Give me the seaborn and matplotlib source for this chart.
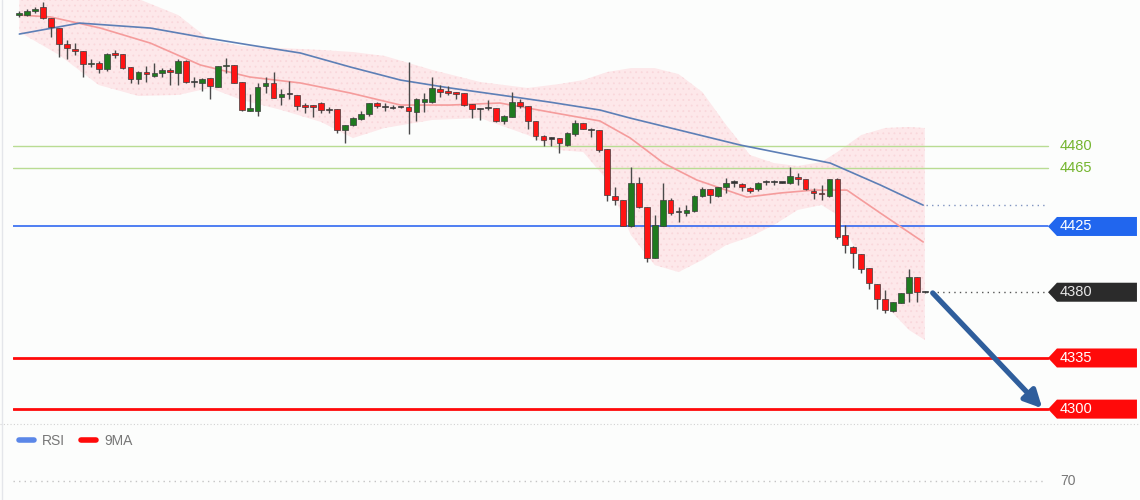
import numpy as np
import matplotlib
matplotlib.use("Agg")
import matplotlib.pyplot as plt
import matplotlib.transforms as mtransforms
from matplotlib.patches import Polygon
from matplotlib.lines import Line2D
import seaborn as sns

sns.set_theme(style="white")
plt.rcParams['font.family'] = ['Liberation Sans', 'DejaVu Sans']
plt.rcParams['hatch.linewidth'] = 0.6

# candle data, one row per bar: open, high, low, close
opens = [4569.7, 4569.5, 4572.5, 4575.4, 4567.5, 4560.6, 4549.7, 4546.7, 4545.3, 4536.0,
         4537.1, 4532.6, 4543.5, 4542.8, 4534.4, 4525.7, 4530.9, 4528.0, 4529.8, 4532.1,
         4530.2, 4538.3, 4524.1, 4523.0, 4526.4, 4520.5, 4534.8, 4535.5, 4524.1, 4504.0,
         4504.2, 4521.1, 4523.5, 4513.8, 4515.8, 4515.0, 4508.1, 4507.5, 4509.3, 4504.7,
         4505.2, 4491.0, 4494.5, 4498.8, 4502.0, 4509.3, 4507.0, 4506.3, 4506.6, 4506.6,
         4503.5, 4510.4, 4510.4, 4519.1, 4517.9, 4516.8, 4516.1, 4508.8, 4505.4, 4505.8,
         4505.9, 4497.4, 4500.1, 4510.4, 4507.7, 4497.4, 4486.9, 4485.3, 4485.7, 4480.8,
         4488.3, 4495.6, 4491.0, 4491.0, 4477.8, 4445.8, 4443.1, 4425.3, 4455.0, 4438.5,
         4403.2, 4425.3, 4443.1, 4435.1, 4434.0, 4435.8, 4445.8, 4450.7, 4445.8, 4452.2,
         4455.0, 4454.1, 4451.1, 4450.4, 4455.6, 4455.6, 4455.0, 4454.5, 4459.1, 4457.3,
         4449.5, 4447.7, 4445.8, 4457.3, 4419.2, 4410.7, 4406.2, 4396.4, 4385.6, 4375.2,
         4367.3, 4372.8, 4379.6, 4390.2, 4380.0]
highs = [4572.5, 4573.6, 4575.4, 4578.6, 4567.5, 4560.6, 4552.6, 4550.4, 4545.3, 4539.4,
         4538.2, 4543.5, 4545.8, 4542.8, 4534.4, 4531.4, 4534.8, 4536.7, 4533.3, 4533.3,
         4539.4, 4538.9, 4527.5, 4526.4, 4526.4, 4534.8, 4540.4, 4535.5, 4524.1, 4515.4,
         4523.0, 4527.3, 4530.9, 4519.1, 4524.4, 4515.0, 4509.3, 4508.1, 4510.4, 4506.6,
         4505.2, 4494.5, 4500.1, 4504.2, 4509.7, 4510.0, 4509.7, 4508.1, 4507.3, 4537.8,
         4512.7, 4516.1, 4527.5, 4521.8, 4521.1, 4517.2, 4516.1, 4508.8, 4505.9, 4511.6,
         4505.9, 4501.3, 4517.2, 4512.0, 4507.7, 4497.4, 4487.6, 4486.4, 4485.7, 4489.7,
         4497.9, 4495.8, 4492.2, 4491.0, 4477.8, 4452.2, 4443.1, 4465.9, 4459.1, 4438.5,
         4432.9, 4455.0, 4444.3, 4438.5, 4439.7, 4446.5, 4451.8, 4450.7, 4452.2, 4458.0,
         4456.8, 4454.6, 4452.2, 4455.6, 4456.8, 4456.8, 4455.4, 4465.5, 4461.4, 4457.3,
         4451.1, 4453.4, 4457.3, 4457.9, 4426.0, 4411.6, 4406.2, 4396.4, 4385.6, 4381.5,
         4373.5, 4379.2, 4395.7, 4390.2, 4380.5]
lows = [4568.6, 4569.0, 4570.9, 4567.0, 4554.9, 4541.2, 4539.4, 4542.4, 4527.5, 4534.4,
        4529.8, 4531.6, 4540.1, 4532.6, 4523.0, 4522.5, 4524.1, 4527.1, 4527.5, 4521.8,
        4521.8, 4523.0, 4520.2, 4517.9, 4512.0, 4520.2, 4530.2, 4523.2, 4504.0, 4503.7,
        4500.6, 4516.4, 4512.7, 4508.1, 4512.2, 4504.7, 4502.5, 4500.1, 4502.9, 4502.9,
        4489.2, 4481.9, 4493.8, 4497.9, 4500.6, 4505.9, 4504.2, 4505.4, 4505.9, 4488.3,
        4497.4, 4503.5, 4509.7, 4513.8, 4515.0, 4512.0, 4507.5, 4499.0, 4497.9, 4504.7,
        4496.7, 4495.1, 4499.7, 4505.9, 4491.5, 4484.2, 4480.1, 4480.1, 4475.4, 4480.1,
        4486.9, 4491.4, 4486.4, 4476.2, 4442.6, 4439.7, 4425.0, 4424.8, 4437.4, 4400.9,
        4403.2, 4425.3, 4432.9, 4428.3, 4432.2, 4435.1, 4445.0, 4440.9, 4445.4, 4447.7,
        4451.8, 4449.5, 4447.7, 4449.5, 4453.4, 4453.4, 4454.5, 4454.1, 4453.4, 4450.0,
        4443.6, 4443.1, 4445.4, 4416.2, 4406.6, 4396.4, 4393.0, 4382.0, 4368.3, 4365.6,
        4366.7, 4372.4, 4373.5, 4373.5, 4379.5]
closes = [4571.3, 4572.5, 4573.6, 4567.5, 4561.3, 4549.9, 4546.9, 4545.3, 4536.0, 4537.1,
          4532.8, 4543.0, 4542.2, 4533.7, 4525.7, 4530.9, 4529.4, 4529.8, 4532.1, 4530.5,
          4538.3, 4524.1, 4524.0, 4525.7, 4520.9, 4534.6, 4535.3, 4523.5, 4504.5, 4505.9,
          4520.2, 4523.5, 4512.9, 4515.5, 4515.9, 4507.5, 4506.6, 4507.0, 4504.7, 4504.8,
          4491.0, 4494.5, 4499.0, 4502.0, 4509.3, 4507.5, 4506.9, 4506.2, 4506.5, 4504.2,
          4512.0, 4512.0, 4519.6, 4517.2, 4516.6, 4515.5, 4508.1, 4505.4, 4505.3, 4505.9,
          4497.4, 4500.6, 4510.4, 4507.7, 4497.2, 4486.9, 4484.2, 4485.2, 4481.9, 4489.0,
          4496.0, 4491.5, 4490.9, 4477.3, 4446.5, 4443.1, 4425.3, 4455.0, 4438.5, 4403.2,
          4426.0, 4443.1, 4434.0, 4435.0, 4436.3, 4445.8, 4450.7, 4446.5, 4451.8, 4455.0,
          4455.1, 4451.8, 4449.5, 4454.6, 4455.7, 4455.7, 4455.1, 4459.5, 4457.3, 4450.4,
          4447.7, 4447.2, 4457.3, 4417.6, 4412.3, 4406.6, 4395.7, 4386.1, 4375.2, 4367.8,
          4373.5, 4379.2, 4390.2, 4379.9, 4380.0]

# bollinger band edges read at these bars
band_idx = [0, 5, 10, 15, 20, 24, 28, 33, 38, 42, 46, 52, 58, 64, 68, 71, 74, 77, 80, 83,
            86, 89, 92, 95, 98, 101, 103, 106, 109, 112, 114]
band_upper = [4586.8, 4586.2, 4584.1, 4580.7, 4569.7, 4552.6, 4548.5, 4547.1, 4545.8, 4544.4,
              4541.7, 4532.1, 4523.9, 4519.8, 4522.5, 4525.2, 4530.7, 4533.4, 4533.4, 4529.3,
              4517.0, 4494.4, 4473.9, 4468.4, 4466.4, 4469.1, 4476.0, 4487.6, 4492.4, 4493.1,
              4492.4]
band_lower = [4558.1, 4542.4, 4521.8, 4514.3, 4515.0, 4519.8, 4511.6, 4504.7, 4496.5, 4485.5,
              4492.4, 4497.9, 4499.2, 4487.6, 4477.3, 4475.9, 4456.8, 4419.1, 4398.6, 4393.8,
              4402.1, 4412.3, 4417.8, 4426.0, 4436.3, 4439.7, 4432.9, 4402.1, 4371.3, 4354.2,
              4347.3]

# moving averages
mid_idx = [0, 3.9, 10.2, 16.5, 22.8, 29, 35.4, 41.7, 48, 54.2, 60.5, 66.8, 73.1, 76.9,
           81.1, 85.3, 91.6, 95.8, 100, 104.2, 108.4, 113.8]
mid_vals = [4569.7, 4568.4, 4560.8, 4550.5, 4535.5, 4527.3, 4523.2, 4516.3, 4508.1, 4508.1,
            4509.5, 4503.3, 4497.2, 4485.6, 4468.4, 4456.8, 4445.1, 4447.9, 4449.9, 4449.9,
            4434.2, 4414.4]
slow_idx = [0, 7.6, 16.5, 22.8, 29, 35.4, 41.7, 48, 54.2, 60.5, 66.8, 73.1, 76.9, 90.8,
            102.1, 108.4, 113.8]
slow_vals = [4556.7, 4564.2, 4560.8, 4554.7, 4549.2, 4543.7, 4534.1, 4525.2, 4519.8, 4515.0,
             4510.1, 4504.7, 4499.2, 4480.7, 4468.4, 4453.4, 4439.6]

# levels
green_levels = [4480, 4465]
pivot_level = 4425
last_price = 4380
target_levels = [4335, 4300]
rsi_level = 70

W, H = 1140, 500
fig = plt.figure(figsize=(W / 100, H / 100), dpi=100, facecolor='#fcfdfc')
ax = fig.add_axes([13 / W, 1 - 423 / H, 1127 / W, 423 / H])
ax_rsi = fig.add_axes([13 / W, 0, 1127 / W, 75 / H])
for a in (ax, ax_rsi):
    a.set_facecolor('#fcfdfc')
    for s in a.spines.values():
        s.set_visible(False)
    a.set_xticks([])
    a.set_yticks([])

ax.set_xlim(-0.8, 141.1)
ax.set_ylim(4290.5, 4580.0)

# band
ax.fill_between(band_idx, band_lower, band_upper, facecolor='#fde8ea', edgecolor='#f9d7db',
                hatch='...', linewidth=0, zorder=1)

# level lines
for lv in green_levels:
    ax.axhline(lv, xmin=0, xmax=0.918, color='#b9dc93', lw=1.0, zorder=2)
ax.axhline(pivot_level, xmin=0, xmax=0.918, color='#1f5cf0', lw=1.1, zorder=2)
for lv in target_levels:
    ax.axhline(lv, xmin=0, xmax=0.918, color='#ff0a0a', lw=2.0, zorder=2)
ax.axhline(last_price, xmin=0.810, xmax=0.916, color='#555555', lw=1.0, ls=(0, (1, 3)), zorder=2)
ax.axhline(slow_vals[-1], xmin=0.810, xmax=0.916, color='#7f93c0', lw=1.0, ls=(0, (1, 3)), zorder=2)

# moving averages
sns.lineplot(x=mid_idx, y=mid_vals, ax=ax, color='#f59c9c', lw=1.2, zorder=3)
sns.lineplot(x=slow_idx, y=slow_vals, ax=ax, color='#5d7fb6', lw=1.2, zorder=3)

# candles
idx = np.arange(len(opens))
o = np.array(opens)
c = np.array(closes)
colors = np.where(c > o, '#1f7a1f', '#ff1414')
colors = np.where(np.abs(c - o) < 0.3, '#333333', colors)
ax.vlines(idx, lows, highs, color='#4a4a4a', lw=1.0, zorder=4)
heights = np.maximum(np.abs(c - o), 0.8)
ax.bar(idx, heights, bottom=np.minimum(o, c), width=0.72, color=colors,
       edgecolor='#3c3c3c', linewidth=0.5, zorder=5)

# arrow
ax.annotate('', xy=(128.8, 4300.5), xytext=(115, 4379.5),
            arrowprops=dict(arrowstyle='-|>', color='#2f5e9c', lw=3.8, mutation_scale=26,
                            shrinkA=0, shrinkB=0), zorder=6)

# right-hand tags
trans = mtransforms.blended_transform_factory(ax.transAxes, ax.transData)
half = 9.5 * (4580.0 - 4290.5) / 423


def tag(level, text, face, tcolor):
    pts = [(0.9184, level), (0.9263, level + half), (0.9973, level + half),
           (0.9973, level - half), (0.9263, level - half)]
    ax.add_patch(Polygon(pts, closed=True, transform=trans, facecolor=face,
                         edgecolor='none', zorder=7, clip_on=False))
    ax.text(0.929, level, text, transform=trans, color=tcolor, fontsize=10.5,
            va='center', ha='left', zorder=8)


for lv in green_levels:
    ax.text(0.929, lv, str(lv), transform=trans, color='#74b52e', fontsize=10.5,
            va='center', ha='left')
tag(pivot_level, str(pivot_level), '#2166ee', 'white')
tag(last_price, str(last_price), '#2b2b2b', '#e6e6e6')
for lv in target_levels:
    tag(lv, str(lv), '#ff0a0a', 'white')

# separator
fig.add_artist(Line2D([0, 1], [1 - 423.5 / H] * 2, transform=fig.transFigure,
                      color='#d2d2d2', lw=0.8, ls=(0, (1, 2))))
fig.add_artist(Line2D([1.5 / W] * 2, [0, 1], transform=fig.transFigure,
                      color='#e4e6ea', lw=1.0))

# RSI panel
ax_rsi.set_xlim(ax.get_xlim())
ax_rsi.set_ylim(65, 85)
ax_rsi.axhline(rsi_level, xmin=0, xmax=0.916, color='#c4c4c4', lw=1.0, ls=(0, (1, 3)))
ax_rsi.text(0.929, rsi_level, str(rsi_level), transform=mtransforms.blended_transform_factory(
    ax_rsi.transAxes, ax_rsi.transData), color='#777777', fontsize=10, va='center', ha='left')
handles = [Line2D([], [], color='#5b87e8', lw=4), Line2D([], [], color='#ff0a0a', lw=4)]
ax_rsi.legend(handles, ['RSI', '9MA'], loc='upper left', ncol=2, frameon=False,
              fontsize=10, handlelength=1.1, columnspacing=1.1, handletextpad=0.6,
              labelcolor='#777777', bbox_to_anchor=(-0.006, 1.05))

fig.savefig('out.png', dpi=100, facecolor=fig.get_facecolor())
